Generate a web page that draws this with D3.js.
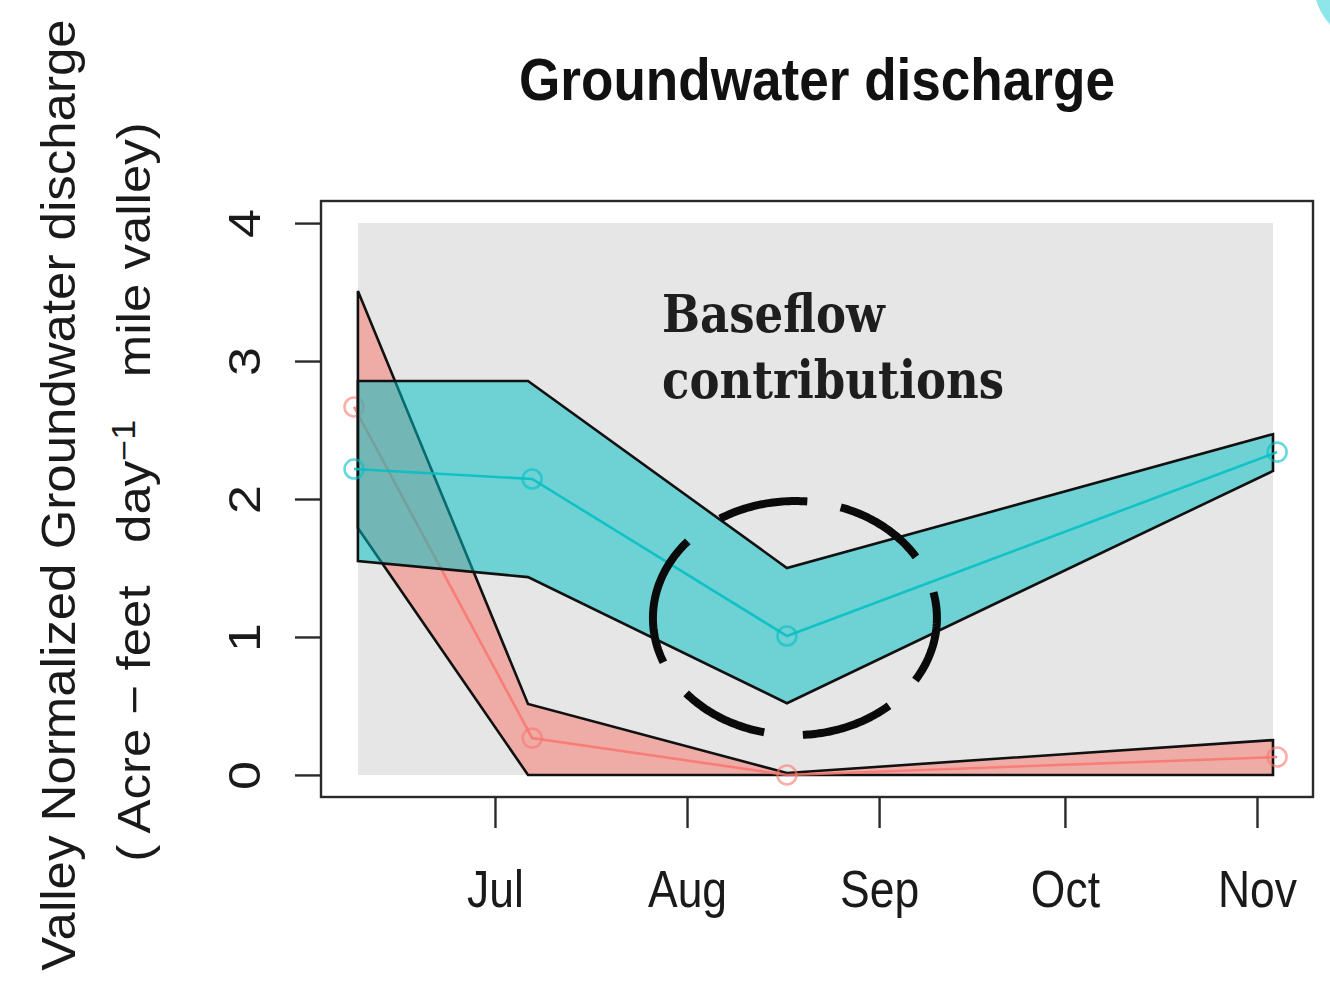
<!DOCTYPE html>
<html>
<head>
<meta charset="utf-8">
<script src="https://cdn.jsdelivr.net/npm/d3@7"></script>
<style>
  html, body { margin: 0; padding: 0; background: #ffffff; }
  svg { display: block; }
</style>
</head>
<body>
<svg id="chart" width="1330" height="984"></svg>
<script>
// ---------- data ----------
const xDomain = ["2015-06-02T22:00", "2015-11-10T01:00"];
const monthTicks = ["2015-07-01", "2015-08-01", "2015-09-01", "2015-10-01", "2015-11-01"];
const yTicks = [0, 1, 2, 3, 4];
const yDomain = [-0.16, 4.16];
const panelRange = [0, 4];

const bandDates  = ["2015-06-08T21:00", "2015-07-06T08:00", "2015-08-17T03:00", "2015-11-03T14:00"];
const pointDates = ["2015-06-08T06:00", "2015-07-07T00:00", "2015-08-17T03:00", "2015-11-04T06:00"];

const cyanUpper = [2.855, 2.855, 1.50, 2.47];
const cyanLower = [1.55, 1.434, 0.52, 2.203];
const cyanMean  = [2.217, 2.145, 1.007, 2.34];

const redUpper = [3.508, 0.514, 0.014, 0.253];
const redLower = [1.79, 0.0, 0.0, 0.0];
const redMean  = [2.667, 0.267, 0.0, 0.13];

const titleText = "Groundwater discharge";
const annotLines = ["Baseflow", "contributions"];
const annotCenter = { date: "2015-08-18T10:00", value: 1.137 };
const dashArcs = [[-12.7, 32], [48.5, 86.8], [102.5, 140], [157.8, 221], [238.2, 275], [288.8, 328.5]];

// ---------- layout ----------
const svg = d3.select("#chart");
const L = 321, R = 1313, T = 201, B = 797;
const parse = s => new Date(s);

const x = d3.scaleTime().domain(xDomain.map(parse)).range([L, R]);
const y = d3.scaleLinear().domain(yDomain).range([B, T]);

const RED = "#F8766D", CYAN = "#00BFC4";

// grey panel
svg.append("rect")
  .attr("x", x(parse(bandDates[0])))
  .attr("y", y(panelRange[1]))
  .attr("width", x(parse(bandDates[bandDates.length - 1])) - x(parse(bandDates[0])))
  .attr("height", y(panelRange[0]) - y(panelRange[1]))
  .attr("fill", "#e6e6e6");

const area = d3.area()
  .x(d => x(parse(d.date)))
  .y0(d => y(d.lo))
  .y1(d => y(d.hi));
const line = d3.line()
  .x(d => x(parse(d.date)))
  .y(d => y(d.v));

function drawSeries(upper, lower, mean, color) {
  const bandData = bandDates.map((d, i) => ({ date: d, lo: lower[i], hi: upper[i] }));
  const ptData = pointDates.map((d, i) => ({ date: d, v: mean[i] }));
  svg.append("path")
    .attr("d", area(bandData))
    .attr("fill", color)
    .attr("fill-opacity", 0.52)
    .attr("stroke", "#111")
    .attr("stroke-width", 2.6)
    .attr("stroke-linejoin", "miter");
  svg.append("path")
    .attr("d", line(ptData))
    .attr("fill", "none")
    .attr("stroke", color)
    .attr("stroke-width", 2.6)
    .attr("stroke-opacity", 0.85);
  svg.append("g").selectAll("circle")
    .data(ptData)
    .join("circle")
    .attr("cx", d => x(parse(d.date)))
    .attr("cy", d => y(d.v))
    .attr("r", 9.5)
    .attr("fill", "none")
    .attr("stroke", color)
    .attr("stroke-width", 2.6)
    .attr("stroke-opacity", 0.6);
}

drawSeries(redUpper, redLower, redMean, RED);
drawSeries(cyanUpper, cyanLower, cyanMean, CYAN);

// box
svg.append("rect")
  .attr("x", L).attr("y", T)
  .attr("width", R - L).attr("height", B - T)
  .attr("fill", "none")
  .attr("stroke", "#2a2a2a")
  .attr("stroke-width", 2.4);

// x axis
const xAxis = d3.axisBottom(x)
  .tickValues(monthTicks.map(parse))
  .tickFormat(d3.timeFormat("%b"))
  .tickSize(31)
  .tickSizeOuter(0);
const gx = svg.append("g").attr("transform", `translate(0,${B})`).call(xAxis);
gx.select(".domain").remove();
gx.selectAll(".tick line").attr("stroke", "#2a2a2a").attr("stroke-width", 2.4);
gx.selectAll(".tick text")
  .attr("y", null).attr("dy", null)
  .attr("transform", "translate(0,110) scale(0.855,1)")
  .attr("fill", "#1a1a1a")
  .style("font-family", "'Liberation Sans', Arial, sans-serif")
  .style("font-size", "52px")
  .attr("text-anchor", "middle");

// y axis
const yAxis = d3.axisLeft(y).tickValues(yTicks).tickFormat(d3.format("d")).tickSize(26).tickSizeOuter(0);
const gy = svg.append("g").attr("transform", `translate(${L},0)`).call(yAxis);
gy.select(".domain").remove();
gy.selectAll(".tick line").attr("stroke", "#2a2a2a").attr("stroke-width", 2.4);
gy.selectAll(".tick text")
  .attr("x", null).attr("dy", null)
  .attr("transform", "translate(-61,0) scale(0.86,1) rotate(-90)")
  .attr("text-anchor", "middle")
  .attr("fill", "#1a1a1a")
  .style("font-family", "'Liberation Sans', Arial, sans-serif")
  .style("font-size", "52px");

// title
svg.append("text")
  .attr("transform", `translate(${(L + R) / 2},100) scale(0.885,1)`)
  .attr("text-anchor", "middle")
  .attr("fill", "#111")
  .style("font-family", "'Liberation Sans', Arial, sans-serif")
  .style("font-weight", "bold")
  .style("font-size", "60px")
  .text(titleText);

// y axis label (two lines)
svg.append("text")
  .attr("transform", "translate(75,495) scale(0.95,1) rotate(-90)")
  .attr("text-anchor", "middle")
  .attr("fill", "#1a1a1a")
  .style("font-family", "'Liberation Sans', Arial, sans-serif")
  .style("font-size", "51px")
  .text("Valley Normalized Groundwater discharge");

const l2 = svg.append("text")
  .attr("transform", "translate(150,492) scale(0.9,1) rotate(-90)")
  .attr("text-anchor", "middle")
  .attr("fill", "#1a1a1a")
  .style("font-family", "'Liberation Sans', Arial, sans-serif")
  .style("font-size", "51px")
  .attr("xml:space", "preserve");
l2.append("tspan").text("( Acre \u2212 feet   day");
l2.append("tspan").attr("dy", -17).style("font-size", "36px").text("\u22121");
l2.append("tspan").attr("dy", 17).text("   mile valley)");

// annotation text
annotLines.forEach((t, i) => {
  svg.append("text")
    .attr("transform", `translate(662,${332 + i * 66}) scale(0.85,1)`)
    .attr("fill", "#1e1e1e")
    .style("font-family", "'DejaVu Serif', 'Liberation Serif', serif")
    .style("font-weight", "bold")
    .style("font-size", "53px")
    .text(t);
});

// dashed ellipse annotation
const cx = x(parse(annotCenter.date)), cy = y(annotCenter.value);
const rx = 142, ry = 117;
const arcLine = d3.line();
dashArcs.forEach(([a0, a1]) => {
  const pts = d3.range(0, 41).map(k => {
    const a = (a0 + (a1 - a0) * k / 40) * Math.PI / 180;
    return [cx + rx * Math.cos(a), cy + ry * Math.sin(a)];
  });
  svg.append("path")
    .attr("d", arcLine(pts))
    .attr("fill", "none")
    .attr("stroke", "#0a0a0a")
    .attr("stroke-width", 8);
});

// corner decoration
svg.append("circle")
  .attr("cx", 1380).attr("cy", -20).attr("r", 67)
  .attr("fill", "#8ee6ea");
</script>
</body>
</html>
